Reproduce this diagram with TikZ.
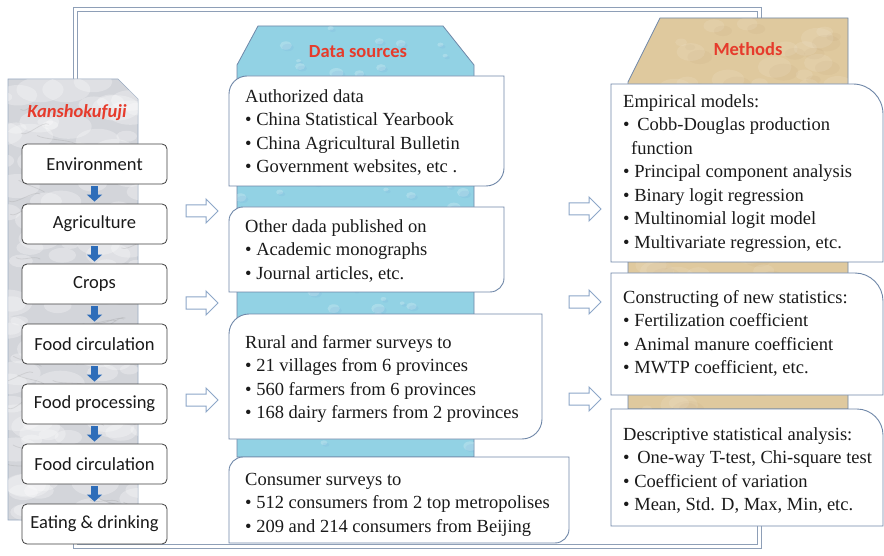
\documentclass[tikz,border=0pt]{standalone}
\usepackage{fontspec}
\setmainfont{Liberation Serif}
\newfontfamily\calfont{Carlito}
\usetikzlibrary{shapes.arrows,arrows.meta}
\definecolor{frameC}{HTML}{8E9FB7}
\definecolor{panelG}{HTML}{D3D5DA}
\definecolor{panelB}{HTML}{92D2E4}
\definecolor{panelT}{HTML}{DFC99E}
\definecolor{edgeB}{HTML}{6F87A8}
\definecolor{titleR}{HTML}{E63B2C}
\definecolor{arrB}{HTML}{2E6DB9}
\definecolor{hollowB}{HTML}{8DA7C8}
\definecolor{inkC}{HTML}{1A1A1A}
\newcommand\DataBox[5]{%
  \filldraw[boxline] (#1,#4) -- (#1,#2+#5) .. controls (#1,#2+0.45*#5) and (#1+0.45*#5,#2) .. (#1+#5,#2)
    -- (#3,#2) -- (#3,#4-#5) .. controls (#3,#4-0.45*#5) and (#3-0.45*#5,#4) .. (#3-#5,#4) -- cycle;}
\newcommand\MethBox[5]{%
  \filldraw[boxline] (#1,#2) -- (#3-#5,#2) .. controls (#3-0.45*#5,#2) and (#3,#2+0.45*#5) .. (#3,#2+#5)
    -- (#3,#4) -- (#1,#4) -- cycle;}
\begin{document}
\begin{tikzpicture}[x=1pt,y=-1pt,
  stagebox/.style={draw=black!75, line width=0.8pt, fill=white, rounded corners=5pt,
    minimum width=145pt, minimum height=40pt, inner sep=0pt,
    font=\calfont\fontsize{18.5}{22}\selectfont, text=inkC},
  downarr/.style={draw=arrB, line width=6.5pt, -{Triangle[width=15pt,length=7pt]},
    shorten <=2pt, shorten >=2pt},
  hollow/.style={single arrow, draw=hollowB, line width=1pt, fill=white,
    minimum height=32pt, minimum width=23pt, single arrow head extend=6pt,
    inner xsep=0pt, inner ysep=5.5pt},
  title/.style={font=\calfont\bfseries\fontsize{18.5}{22}\selectfont, text=titleR, inner sep=0pt},
  txt/.style={anchor=north west, inner sep=0pt, align=left,
    font=\fontsize{18.5}{23.5}\selectfont, text=inkC},
  boxline/.style={draw=edgeB, line width=0.9pt, fill=white},
]
\useasboundingbox (0,0) rectangle (884,556);
\fill[white] (0,0) rectangle (884,556);

% outer frame
\draw[draw=frameC, double=white, double distance=2.2pt, line width=1pt] (75.5,9.5) rectangle (759.5,546.5);

% left panel (marble)
\filldraw[fill=panelG, draw=edgeB!70, line width=0.7pt] (8,79) -- (118,79) -- (138,99) -- (138,520) -- (8,520) -- cycle;
\begin{scope}
  \clip (8,79) -- (118,79) -- (138,99) -- (138,520) -- (8,520) -- cycle;
  \pgfmathsetseed{7}
  \foreach \i in {1,...,110}{
    \pgfmathsetmacro\xa{0+145*rnd}
    \pgfmathsetmacro\ya{75+450*rnd}
    \pgfmathsetmacro\rr{5+12*rnd}
    \fill[white, opacity=0.28] (\xa,\ya) ellipse ({1.5*\rr pt} and {0.8*\rr pt});
  }
  \foreach \i in {1,...,35}{
    \pgfmathsetmacro\xa{-5+140*rnd}
    \pgfmathsetmacro\ya{79+441*rnd}
    \pgfmathsetmacro\dx{15+25*rnd}
    \pgfmathsetmacro\dy{-12+24*rnd}
    \draw[black!50, opacity=0.18, line width=0.8pt, line cap=round] (\xa,\ya) .. controls +(6,4) and +(-6,-4) .. +(\dx,\dy);
  }
\end{scope}

% data panel (water)
\filldraw[fill=panelB, draw=edgeB, line width=0.8pt] (237,65) -- (258,26) -- (443,26) -- (474,65) -- (474,457) -- (237,457) -- cycle;
\begin{scope}
  \clip (237,65) -- (258,26) -- (443,26) -- (474,65) -- (474,457) -- (237,457) -- cycle;
  \pgfmathsetseed{11}
  \foreach \i in {1,...,110}{
    \pgfmathsetmacro\xa{237+237*rnd}
    \pgfmathsetmacro\ya{26+431*rnd}
    \pgfmathsetmacro\rr{2+5*rnd}
    \fill[white, opacity=0.22] (\xa,\ya) ellipse ({\rr pt} and {0.7*\rr pt});
    \fill[cyan!50!blue!60, opacity=0.12] (\xa+2,\ya+2) ellipse ({\rr pt} and {0.6*\rr pt});
  }
\end{scope}

% methods panel (sand)
\filldraw[fill=panelT, draw=edgeB, line width=0.8pt] (628,82) -- (660,18) -- (848,18) -- (848,409) -- (628,409) -- cycle;
\begin{scope}
  \clip (628,82) -- (660,18) -- (848,18) -- (848,409) -- (628,409) -- cycle;
  \pgfmathsetseed{5}
  \foreach \i in {1,...,90}{
    \pgfmathsetmacro\xa{628+220*rnd}
    \pgfmathsetmacro\ya{18+391*rnd}
    \pgfmathsetmacro\rr{3+9*rnd}
    \fill[white, opacity=0.1] (\xa,\ya) ellipse ({1.6*\rr pt} and {\rr pt});
    \fill[brown!70!black, opacity=0.04] (\xa+9,\ya+5) ellipse ({1.4*\rr pt} and {0.8*\rr pt});
  }
\end{scope}

% titles
\node[title, font=\calfont\bfseries\itshape\fontsize{18.5}{22}\selectfont] (tk) at (77,113) {Kanshokufuji};
\node[title] (td) at (358,52) {Data sources};
\node[title] (tm) at (748,49) {Methods};

% stage boxes
\node[stagebox] (s1) at (94.5,164) {Environment};
\node[stagebox] (s2) at (94.5,224) {Agriculture};
\node[stagebox] (s3) at (94.5,284) {Crops};
\node[stagebox] (s4) at (94.5,344) {Food circulation};
\node[stagebox] (s5) at (94.5,404) {Food processing};
\node[stagebox] (s6) at (94.5,464) {Food circulation};
\node[stagebox] (s7) at (94.5,524) {Eating \& drinking};
\foreach \a/\b in {s1/s2,s2/s3,s3/s4,s4/s5,s5/s6,s6/s7}
  \draw[downarr] (\a.south) -- (\b.north);

% data source boxes
\DataBox{229}{76}{504}{186}{18}
\DataBox{229}{207}{504}{292}{14}
\DataBox{229}{314}{542}{439}{20}
\DataBox{229}{457}{569}{543}{14}
\node[txt] (d1) at (245,85.5) {\strut Authorized data\\• China Statistical Yearbook\\• China Agricultural Bulletin\\• Government websites, etc .};
\node[txt] (d2) at (245,215.5) {\strut Other dada published on\\• Academic monographs\\• Journal articles, etc.};
\node[txt] (d3) at (245,331.5) {\strut Rural and farmer surveys to\\• 21 villages from 6 provinces\\• 560 farmers from 6 provinces\\• 168 dairy farmers from 2 provinces};
\node[txt] (d4) at (245,468.5) {\strut Consumer surveys to\\• 512 consumers from 2 top metropolises\\• 209 and 214 consumers from Beijing};

% method boxes
\MethBox{611}{84}{883}{262}{30}
\MethBox{611}{273}{883}{395}{28}
\MethBox{611}{409}{883}{526}{26}
\node[txt] (m1) at (623,90.5) {\strut Empirical models:\\•\, Cobb-Douglas production\\\hspace{8pt}function\\• Principal component analysis\\• Binary logit regression\\• Multinomial logit model\\• Multivariate regression, etc.};
\node[txt] (m2) at (623,286.5) {\strut Constructing of new statistics:\\• Fertilization coefficient\\• Animal manure coefficient\\• MWTP coefficient, etc.};
\node[txt] (m3) at (623,423.5) {\strut Descriptive statistical analysis:\\•\, One-way T-test, Chi-square test\\• Coefficient of variation\\• Mean, Std. D, Max, Min, etc.};

% hollow arrows
\node[hollow] (la1) at (199,211) {};
\node[hollow] (la2) at (199,303) {};
\node[hollow] (la3) at (199,400) {};
\node[hollow] (ra1) at (582,209) {};
\node[hollow] (ra2) at (582,302) {};
\node[hollow] (ra3) at (582,399) {};
\end{tikzpicture}
\end{document}
